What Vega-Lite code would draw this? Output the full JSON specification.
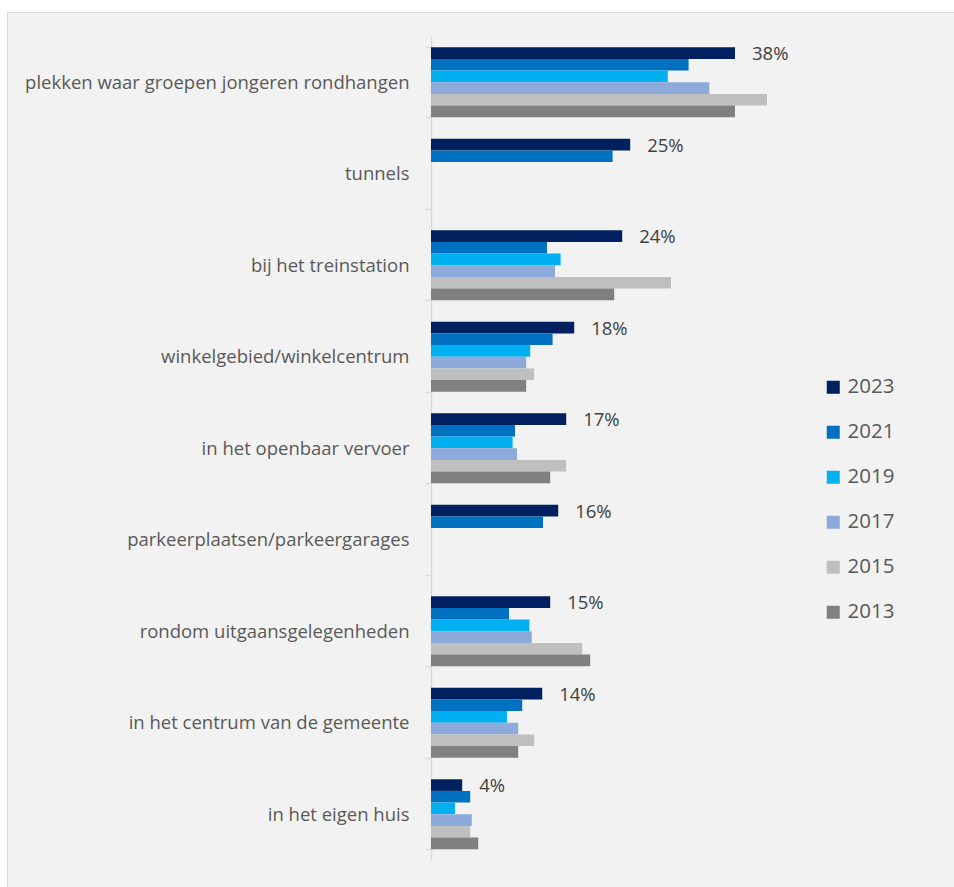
{
  "$schema": "https://vega.github.io/schema/vega-lite/v6.json",
  "width": 947,
  "height": 875,
  "autosize": {"type": "none"},
  "padding": {"left": 7, "top": 12, "right": 0, "bottom": 0},
  "background": "white",
  "config": {"view": {"fill": "#f2f2f2", "stroke": "#d9d9d9"}, "font": "Open Sans"},
  "data": {"values": [
    {"cat": "plekken waar groepen jongeren rondhangen", "year": "2023", "v": 0.380},
    {"cat": "plekken waar groepen jongeren rondhangen", "year": "2021", "v": 0.322},
    {"cat": "plekken waar groepen jongeren rondhangen", "year": "2019", "v": 0.296},
    {"cat": "plekken waar groepen jongeren rondhangen", "year": "2017", "v": 0.348},
    {"cat": "plekken waar groepen jongeren rondhangen", "year": "2015", "v": 0.420},
    {"cat": "plekken waar groepen jongeren rondhangen", "year": "2013", "v": 0.380},
    {"cat": "tunnels", "year": "2023", "v": 0.249},
    {"cat": "tunnels", "year": "2021", "v": 0.227},
    {"cat": "bij het treinstation", "year": "2023", "v": 0.239},
    {"cat": "bij het treinstation", "year": "2021", "v": 0.145},
    {"cat": "bij het treinstation", "year": "2019", "v": 0.162},
    {"cat": "bij het treinstation", "year": "2017", "v": 0.155},
    {"cat": "bij het treinstation", "year": "2015", "v": 0.300},
    {"cat": "bij het treinstation", "year": "2013", "v": 0.229},
    {"cat": "winkelgebied/winkelcentrum", "year": "2023", "v": 0.179},
    {"cat": "winkelgebied/winkelcentrum", "year": "2021", "v": 0.152},
    {"cat": "winkelgebied/winkelcentrum", "year": "2019", "v": 0.124},
    {"cat": "winkelgebied/winkelcentrum", "year": "2017", "v": 0.119},
    {"cat": "winkelgebied/winkelcentrum", "year": "2015", "v": 0.129},
    {"cat": "winkelgebied/winkelcentrum", "year": "2013", "v": 0.119},
    {"cat": "in het openbaar vervoer", "year": "2023", "v": 0.169},
    {"cat": "in het openbaar vervoer", "year": "2021", "v": 0.105},
    {"cat": "in het openbaar vervoer", "year": "2019", "v": 0.102},
    {"cat": "in het openbaar vervoer", "year": "2017", "v": 0.1075},
    {"cat": "in het openbaar vervoer", "year": "2015", "v": 0.169},
    {"cat": "in het openbaar vervoer", "year": "2013", "v": 0.149},
    {"cat": "parkeerplaatsen/parkeergarages", "year": "2023", "v": 0.159},
    {"cat": "parkeerplaatsen/parkeergarages", "year": "2021", "v": 0.140},
    {"cat": "rondom uitgaansgelegenheden", "year": "2023", "v": 0.149},
    {"cat": "rondom uitgaansgelegenheden", "year": "2021", "v": 0.0975},
    {"cat": "rondom uitgaansgelegenheden", "year": "2019", "v": 0.123},
    {"cat": "rondom uitgaansgelegenheden", "year": "2017", "v": 0.126},
    {"cat": "rondom uitgaansgelegenheden", "year": "2015", "v": 0.189},
    {"cat": "rondom uitgaansgelegenheden", "year": "2013", "v": 0.199},
    {"cat": "in het centrum van de gemeente", "year": "2023", "v": 0.139},
    {"cat": "in het centrum van de gemeente", "year": "2021", "v": 0.114},
    {"cat": "in het centrum van de gemeente", "year": "2019", "v": 0.095},
    {"cat": "in het centrum van de gemeente", "year": "2017", "v": 0.109},
    {"cat": "in het centrum van de gemeente", "year": "2015", "v": 0.129},
    {"cat": "in het centrum van de gemeente", "year": "2013", "v": 0.109},
    {"cat": "in het eigen huis", "year": "2023", "v": 0.039},
    {"cat": "in het eigen huis", "year": "2021", "v": 0.049},
    {"cat": "in het eigen huis", "year": "2019", "v": 0.030},
    {"cat": "in het eigen huis", "year": "2017", "v": 0.051},
    {"cat": "in het eigen huis", "year": "2015", "v": 0.049},
    {"cat": "in het eigen huis", "year": "2013", "v": 0.059}
  ]},
  "encoding": {
    "y": {
      "field": "cat", "type": "nominal", "sort": null,
      "scale": {
        "domain": ["plekken waar groepen jongeren rondhangen", "tunnels", "bij het treinstation", "winkelgebied/winkelcentrum", "in het openbaar vervoer", "parkeerplaatsen/parkeergarages", "rondom uitgaansgelegenheden", "in het centrum van de gemeente", "in het eigen huis"],
        "range": [24.5, 848],
        "paddingInner": 0.235,
        "paddingOuter": 0.1175
      },
      "axis": {
        "title": null, "offset": -424, "domainColor": "#d9d9d9", "domainWidth": 1.5,
        "tickColor": "#d9d9d9", "tickSize": 6, "tickBand": "extent", "tickWidth": 1.5,
        "labelPadding": 16, "labelFontSize": 18.5, "labelColor": "#595959", "labelLimit": 600
      }
    },
    "yOffset": {
      "field": "year", "type": "nominal",
      "scale": {"domain": ["2023", "2021", "2019", "2017", "2015", "2013"], "paddingInner": 0, "paddingOuter": 0}
    },
    "x": {
      "field": "v", "type": "quantitative",
      "scale": {"domain": [0, 0.45], "range": [424, 784], "nice": false},
      "axis": null
    }
  },
  "layer": [
    {
      "mark": {"type": "bar"},
      "encoding": {
        "color": {
          "field": "year", "type": "nominal",
          "scale": {"domain": ["2023", "2021", "2019", "2017", "2015", "2013"], "range": ["#002060", "#0070c0", "#00b0f0", "#8eaadb", "#bfbfbf", "#808080"]},
          "legend": {
            "orient": "none", "legendX": 816, "legendY": 365, "title": null,
            "symbolType": "square", "symbolSize": 169, "symbolStrokeWidth": 0,
            "labelFontSize": 20.5, "labelColor": "#595959", "rowPadding": 24, "labelOffset": 4
          }
        }
      }
    },
    {
      "transform": [{"filter": "datum.year == '2023'"}],
      "mark": {"type": "text", "align": "left", "baseline": "middle", "dx": 17, "dy": 1, "fontSize": 18.5, "color": "#404040"},
      "encoding": {"text": {"field": "v", "type": "quantitative", "format": ".0%"}}
    }
  ]
}
